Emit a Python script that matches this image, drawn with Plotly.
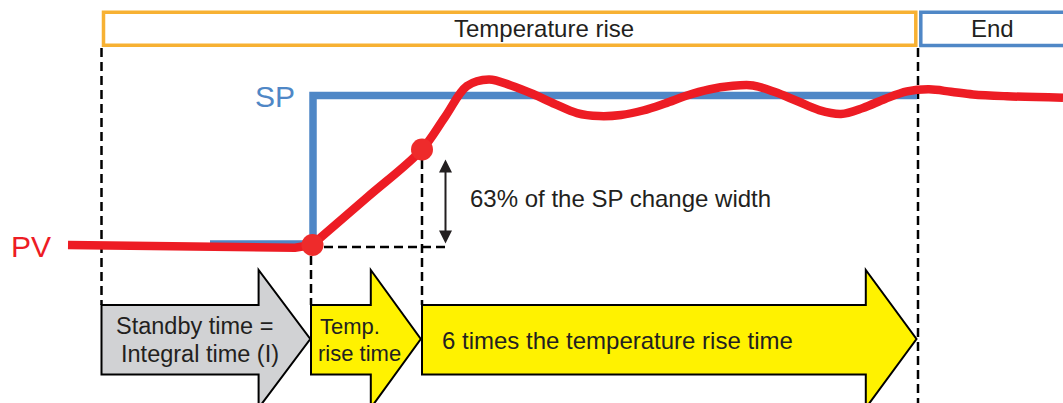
import plotly.graph_objects as go

# ---------------- data ----------------
# PV (process value) in % of the SP change (0 = start value, 100 = new SP)
pv_flat_time = [68, 100, 150, 200, 250, 295, 312]
pv_flat_value = [0.3, 0.2, 0.0, -0.4, -0.9, -1.5, 0.3]

pv_rise_time = [312, 367, 422, 445, 467, 489, 511, 533, 555, 577, 599, 621, 643, 665, 687,
                709, 731, 753, 775, 797, 819, 841, 863, 885, 907, 929, 951, 973, 1007, 1063]
pv_rise_value = [0.3, 32.0, 64.1, 85.7, 106.3, 110.7, 106.7, 101.0, 94.3, 88.3, 86.3, 87.0,
                 90.0, 94.7, 100.0, 104.0, 106.3, 106.7, 102.3, 96.3, 90.3, 87.7, 91.7, 97.7,
                 102.7, 104.1, 102.5, 100.7, 99.5, 98.5]

sp_time = [210, 313, 313, 917]
sp_value = [1.0, 1.0, 100.0, 100.0]

key_time = [312.5, 422]          # start of rise, 63 % point
key_value = [0.3, 64.0]

phase_bounds = [101.5, 311, 422, 918]   # standby | temp. rise | 6x rise | end
phase_labels = ["Temperature rise", "End"]
arrow_labels = [["Standby time =", "Integral time (I)"], ["Temp.", "rise time"],
                ["6 times the temperature rise time"]]
pct_label = "63% of the SP change width"

# ---------------- styling / geometry helpers ----------------
W, H = 1063, 403
BASE_PY, PX_PER_UNIT = 245.5, 1.5


def vy(py):
    """pixel row -> value units"""
    return (BASE_PY - py) / PX_PER_UNIT


RED = "#ED1C24"
BLUE = "#4F87C6"
ORANGE = "#F7B133"
TXT = "#231F20"
FONT = "Liberation Sans, Arial, sans-serif"

fig = go.Figure()

# SP
fig.add_trace(go.Scatter(x=sp_time, y=sp_value, mode="lines",
                         line=dict(color=BLUE, width=7.5), hoverinfo="skip"))
# PV
fig.add_trace(go.Scatter(x=pv_flat_time, y=pv_flat_value, mode="lines",
                         line=dict(color=RED, width=8.5), hoverinfo="skip"))
fig.add_trace(go.Scatter(x=pv_rise_time, y=pv_rise_value, mode="lines",
                         line=dict(color=RED, width=8.5, shape="spline", smoothing=1.0),
                         hoverinfo="skip"))
fig.add_trace(go.Scatter(x=key_time, y=key_value, mode="markers",
                         marker=dict(color="#EE2B2B", size=22), hoverinfo="skip"))

shapes = []
DASH = dict(color="black", width=2.5, dash="9px,5px")
# dashed guide lines
shapes.append(dict(type="line", x0=phase_bounds[0], x1=phase_bounds[0], y0=vy(48), y1=vy(305),
                   line=DASH, layer="below"))
shapes.append(dict(type="line", x0=phase_bounds[1], x1=phase_bounds[1], y0=vy(256), y1=vy(305),
                   line=DASH, layer="below"))
shapes.append(dict(type="line", x0=phase_bounds[2], x1=phase_bounds[2], y0=vy(160), y1=vy(305),
                   line=DASH, layer="below"))
shapes.append(dict(type="line", x0=phase_bounds[3], x1=phase_bounds[3], y0=vy(48), y1=vy(405),
                   line=DASH, layer="below"))
shapes.append(dict(type="line", x0=324, x1=447, y0=vy(247), y1=vy(247),
                   line=DASH, layer="below"))

# top phase boxes
shapes.append(dict(type="rect", x0=103.5, x1=915.8, y0=vy(12.2), y1=vy(45.3),
                   line=dict(color=ORANGE, width=3.5), fillcolor="white"))
shapes.append(dict(type="rect", x0=920.8, x1=1075, y0=vy(12.2), y1=vy(45.5),
                   line=dict(color=BLUE, width=3.5), fillcolor="white"))


def arrow_path(x0, xb, xt, body_top=305, body_bot=374.5, head_top=270, head_bot=408, tip=339):
    pts = [(x0, body_top), (xb, body_top), (xb, head_top), (xt, tip), (xb, head_bot),
           (xb, body_bot), (x0, body_bot)]
    return "M " + " L ".join(f"{x},{vy(y)}" for x, y in pts) + " Z"


arrow_specs = [(101.5, 258.6, 310.3, "#D1D2D4"), (311, 370.8, 420.8, "#FFF200"),
               (422, 865.8, 916.5, "#FFF200")]
for x0, xb, xt, col in arrow_specs:
    shapes.append(dict(type="path", path=arrow_path(x0, xb, xt), fillcolor=col,
                       line=dict(color="black", width=2), layer="below"))

annotations = []


def txt(x, py, s, size=24, color=TXT, xanchor="center"):
    annotations.append(dict(x=x, y=vy(py), text=s, showarrow=False, xanchor=xanchor,
                            yanchor="middle", font=dict(family=FONT, size=size, color=color)))


txt(543.5, 28.5, phase_labels[0])
txt(992, 28.5, phase_labels[1])
txt(297, 96.5, "SP", size=30, color=BLUE, xanchor="right")
txt(9, 246.5, "PV", size=30, color=RED, xanchor="left")
txt(467.5, 198, pct_label, xanchor="left")
txt(194, 325.5, arrow_labels[0][0], size=23.5)
txt(200.3, 353.5, arrow_labels[0][1], size=23.5)
txt(318, 326.5, arrow_labels[1][0], size=22, xanchor="left")
txt(316, 353.5, arrow_labels[1][1], size=22, xanchor="left")
txt(440, 340, arrow_labels[2][0], xanchor="left")

# double-headed arrow for 63 %
annotations.append(dict(x=445.5, y=vy(243.5), ax=445.5, ay=vy(158), xref="x", yref="y",
                        axref="x", ayref="y", showarrow=True, text="",
                        arrowhead=2, startarrowhead=2, arrowside="end+start",
                        arrowsize=1.3, startarrowsize=1.3, arrowwidth=2, arrowcolor=TXT))

fig.update_layout(
    width=W, height=H, margin=dict(l=0, r=0, t=0, b=0),
    paper_bgcolor="white", plot_bgcolor="white", showlegend=False,
    xaxis=dict(range=[0, W], visible=False, fixedrange=True),
    yaxis=dict(range=[vy(H), vy(0)], visible=False, fixedrange=True),
    shapes=shapes, annotations=annotations,
)

fig.write_html("out.html", config={"displayModeBar": False},
               post_script="document.body.style.margin='0';document.body.style.overflow='hidden';")
